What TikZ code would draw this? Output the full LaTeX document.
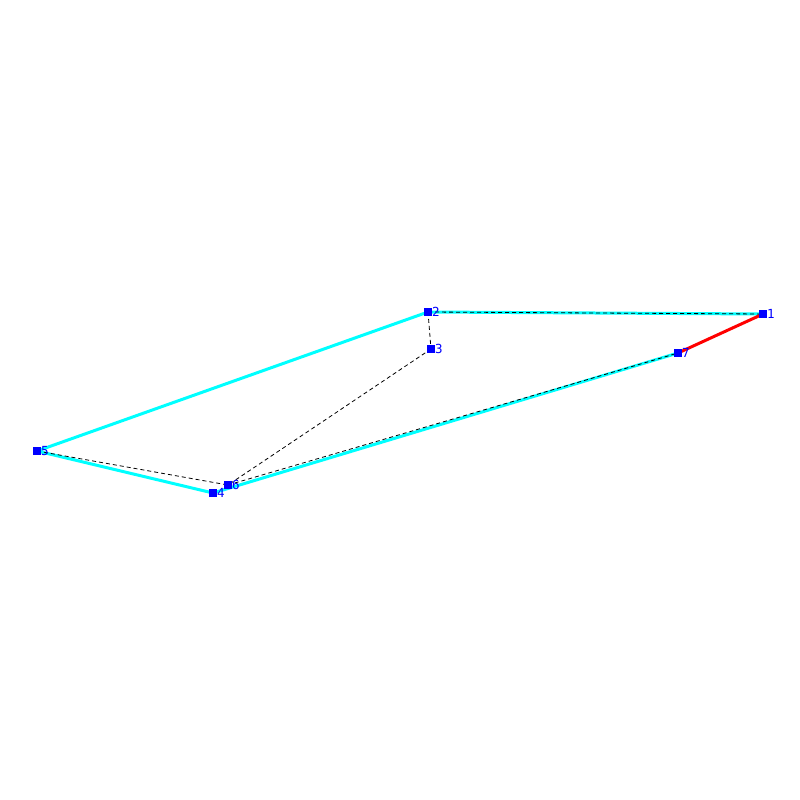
\documentclass[tikz,border=0pt]{standalone}
\usepackage{fontspec}
\newfontfamily\lblfont{DejaVu Sans Mono}
\begin{document}
\begin{tikzpicture}[x=1pt,y=-1pt,
  pt/.style={fill={rgb,255:red,0;green,0;blue,255}, minimum size=8pt, inner sep=0pt, outer sep=0pt},
  lbl/.style={text={rgb,255:red,0;green,0;blue,255}, font=\lblfont\fontsize{12.5}{12.5}\selectfont, inner sep=0pt, anchor=west},
  cy/.style={draw={rgb,255:red,0;green,255;blue,255}, line width=3pt},
  rd/.style={draw={rgb,255:red,255;green,0;blue,0}, line width=3pt},
  dsh/.style={draw=black, line width=0.8pt, dash pattern=on 4pt off 3pt}]
\useasboundingbox (0,0) rectangle (800,800);
\fill[white] (0,0) rectangle (800,800);
\coordinate (p1) at (763,314);
\coordinate (p2) at (428,312);
\coordinate (p3) at (431,349);
\coordinate (p4) at (213,493);
\coordinate (p5) at (37,451);
\coordinate (p6) at (228,485);
\coordinate (p7) at (678,353);
% cyan
\path[cy] (p5) -- (p2);
\path[cy] (p2) -- (p1);
\path[cy] (p7) -- (p4);
\path[cy] (p4) -- (p5);
\path[rd] (p7) -- (p1);
% dashed
\path[dsh] (p2) -- (p1);
\path[dsh] (p2) -- (p3);
\path[dsh] (p3) -- (p6);
\path[dsh] (p5) -- (p6);
\path[dsh] (p6) -- (p7);
% points
\foreach \i in {1,...,7} {
  \node[pt] (n\i) at (p\i) {};
  \node[lbl] (l\i) at ([xshift=4pt]p\i) {\i};
}
\end{tikzpicture}
\end{document}
